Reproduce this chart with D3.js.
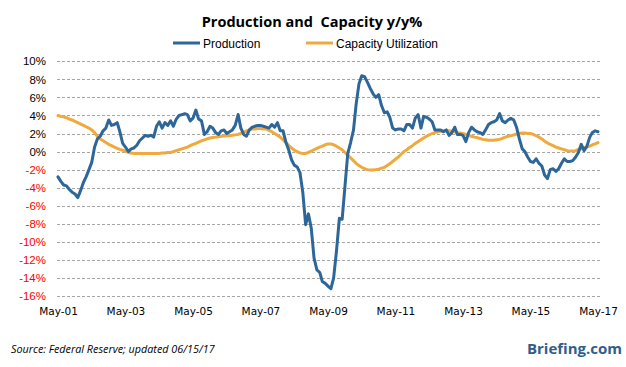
<!DOCTYPE html>
<html><head><meta charset="utf-8">
<script src="https://cdn.jsdelivr.net/npm/d3@7"></script>
<style>
html,body{margin:0;padding:0;background:#fff;}
svg{display:block;}
</style>
</head><body>
<svg id="chart" width="626" height="367"></svg>
<script>
// ---- data (monthly, May 2001 .. May 2017) ----
const startMonth = "2001-05";
const endMonth = "2017-05";
const production = [
-2.8,-3.3,-3.7,-3.8,-4.2,-4.5,-4.7,-5.1,-4.3,-3.4,-2.8,-2.0,-1.2,0.5,1.4,1.7,2.3,2.6,3.5,2.9,
3.0,3.2,2.2,0.9,0.5,0.0,0.3,0.4,0.7,1.2,1.5,1.8,1.7,1.8,1.6,2.8,3.3,2.6,3.2,2.9,
3.4,2.8,3.6,4.0,4.1,4.2,4.1,3.4,3.7,4.6,3.6,3.4,1.9,2.2,2.8,2.6,2.1,1.9,2.3,2.4,
2.0,2.2,2.4,2.9,4.1,2.6,1.9,1.7,2.4,2.7,2.8,2.9,2.9,2.8,2.7,2.6,3.0,2.7,3.2,2.3,
2.3,1.0,0.2,-0.9,-1.5,-1.7,-2.3,-4.5,-8.1,-6.9,-8.5,-11.8,-13.1,-13.4,-14.4,-14.6,-14.9,-15.2,-14.0,-11.0,
-7.4,-7.5,-3.8,-0.2,1.0,2.4,5.2,7.5,8.4,8.3,7.7,7.0,6.4,6.0,6.3,5.1,4.3,4.4,3.8,2.6,
2.4,2.5,2.5,2.3,3.0,3.0,2.6,3.7,4.1,2.6,3.9,3.8,3.6,3.3,2.4,2.4,2.4,2.2,2.4,1.8,
2.1,2.7,1.9,1.9,1.8,1.1,2.1,2.7,2.4,2.2,2.1,1.9,2.4,3.0,3.2,3.3,3.5,4.2,3.4,3.2,
3.5,3.7,3.5,2.7,1.4,0.3,0.0,-0.6,-1.1,-1.2,-0.8,-1.3,-1.6,-2.6,-3.0,-2.0,-1.9,-2.2,-1.9,-1.3,
-0.8,-1.1,-1.1,-1.0,-0.6,-0.1,0.8,0.1,0.6,1.6,2.1,2.3,2.2
];
const capacity = [
4.0,3.9,3.85,3.75,3.6,3.5,3.35,3.2,3.05,2.9,2.75,2.6,2.4,2.1,1.7,1.4,1.2,1.0,0.8,0.65,
0.5,0.35,0.25,0.15,0.05,-0.1,-0.15,-0.2,-0.2,-0.2,-0.2,-0.2,-0.2,-0.2,-0.2,-0.2,-0.2,-0.15,-0.15,-0.1,
-0.1,0.0,0.1,0.2,0.3,0.4,0.5,0.65,0.8,0.9,1.05,1.2,1.3,1.4,1.5,1.55,1.6,1.65,1.7,1.72,
1.75,1.75,1.8,1.85,1.9,2.0,2.15,2.3,2.4,2.5,2.5,2.55,2.55,2.5,2.5,2.35,2.2,2.0,1.8,1.6,
1.3,1.0,0.7,0.4,0.15,0.0,-0.15,-0.2,-0.2,-0.1,0.05,0.2,0.35,0.5,0.6,0.75,0.85,0.85,0.75,0.6,
0.4,0.2,-0.1,-0.4,-0.7,-1.0,-1.3,-1.55,-1.75,-1.9,-2.0,-2.05,-2.05,-2.0,-1.95,-1.85,-1.75,-1.55,-1.35,-1.1,
-0.85,-0.6,-0.3,0.0,0.2,0.45,0.65,0.9,1.1,1.3,1.5,1.7,1.85,2.0,2.1,2.2,2.25,2.3,2.3,2.3,
2.25,2.2,2.1,2.05,2.0,1.9,1.8,1.7,1.6,1.55,1.45,1.35,1.3,1.25,1.25,1.25,1.3,1.35,1.45,1.6,
1.7,1.75,1.85,1.95,2.0,2.05,2.05,2.0,2.0,1.9,1.75,1.6,1.4,1.15,0.95,0.8,0.65,0.5,0.4,0.3,
0.2,0.1,0.05,0.05,0.1,0.25,0.3,0.4,0.5,0.6,0.75,0.85,1.0
];
const yTicks = [10,8,6,4,2,0,-2,-4,-6,-8,-10,-12,-14,-16];
const xTickLabels = ["May-01","May-03","May-05","May-07","May-09","May-11","May-13","May-15","May-17"];
const seriesNames = ["Production","Capacity Utilization"];
const seriesColors = ["#2d6699","#f0a93c"];
const titleText = "Production and\u00a0 Capacity y/y%";
const sourceText = "Source: Federal Reserve; updated 06/15/17";
const brandText = "Briefing.com";

// ---- build ----
const parse = d3.timeParse("%Y-%m");
const t0 = parse(startMonth), t1 = parse(endMonth);
const months = d3.timeMonth.range(t0, d3.timeMonth.offset(t1, 1));
const svg = d3.select("#chart");

const x = d3.scaleTime().domain([t0, t1]).range([58, 598]);
const y = d3.scaleLinear().domain([-16, 10]).range([296, 61.3]);

// gridlines
svg.append("g").selectAll("line").data(yTicks).join("line")
  .attr("x1", 57).attr("x2", 600)
  .attr("y1", d => Math.round(y(d)) + 0.5).attr("y2", d => Math.round(y(d)) + 0.5)
  .attr("stroke", "#a6a6a6").attr("stroke-width", 1).attr("stroke-dasharray", "3,2");

// y axis labels
const yAxis = d3.axisLeft(y).tickValues(yTicks).tickSize(0).tickPadding(0)
  .tickFormat(d => d + "%");
const gy = svg.append("g").attr("transform", "translate(46,0)").call(yAxis);
gy.select(".domain").remove();
gy.selectAll("text")
  .attr("font-family", "'Liberation Sans', Arial, sans-serif")
  .attr("font-size", 11.5)
  .attr("fill", d => d < 0 ? "#ff0000" : "#000");

// x axis labels
const xTickDates = xTickLabels.map((s, i) => d3.timeYear.offset(t0, i * 2));
const xAxis = d3.axisBottom(x).tickValues(xTickDates).tickSize(0).tickPadding(0)
  .tickFormat((d, i) => xTickLabels[i]);
const gx = svg.append("g").attr("transform", "translate(0,308)").call(xAxis);
gx.select(".domain").remove();
gx.selectAll("text")
  .attr("font-family", "'DejaVu Sans', Verdana, sans-serif")
  .attr("font-size", 10.5)
  .attr("fill", "#000");

// lines
const line = d3.line().x((d, i) => x(months[i])).y(d => y(d)).curve(d3.curveLinear);
[capacity, production].forEach((arr, k) => {
  const idx = k === 0 ? 1 : 0;
  svg.append("path").datum(arr)
    .attr("d", line)
    .attr("fill", "none")
    .attr("stroke", seriesColors[idx])
    .attr("stroke-width", 3)
    .attr("stroke-linejoin", "round")
    .attr("stroke-linecap", "round");
});

// title
svg.append("text").attr("x", 312).attr("y", 27).attr("text-anchor", "middle")
  .attr("font-family", "'Open Sans', sans-serif").attr("font-weight", "bold")
  .attr("font-size", 14.5).attr("fill", "#000").text(titleText);

// legend
const legX = [173, 306];
seriesNames.forEach((n, i) => {
  const g = svg.append("g").attr("transform", `translate(${legX[i]},43)`);
  g.append("line").attr("x1", 0).attr("x2", 27).attr("y1", 0).attr("y2", 0)
    .attr("stroke", seriesColors[i]).attr("stroke-width", 3);
  g.append("text").attr("x", 30).attr("y", 4.5)
    .attr("font-family", "'Liberation Sans', Arial, sans-serif").attr("font-size", 12)
    .attr("fill", "#000").text(n);
});

// footer
svg.append("text").attr("x", 11).attr("y", 353)
  .attr("font-family", "'Open Sans', sans-serif").attr("font-style", "italic")
  .attr("font-size", 10.8).attr("fill", "#000").text(sourceText);
svg.append("text").attr("x", 622).attr("y", 354).attr("text-anchor", "end")
  .attr("font-family", "'Open Sans', sans-serif").attr("font-weight", "bold")
  .attr("font-size", 15).attr("fill", "#2f5e8e").text(brandText);
</script>
</body></html>
